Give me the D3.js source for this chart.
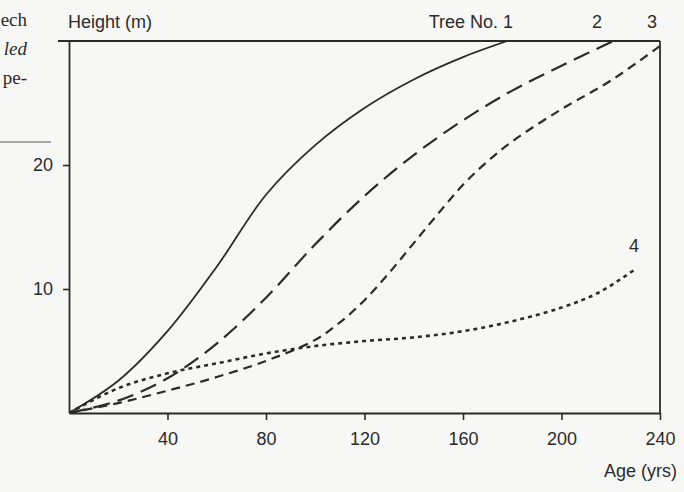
<!DOCTYPE html>
<html>
<head>
<meta charset="utf-8">
<script src="https://cdn.jsdelivr.net/npm/d3@7"></script>
<style>
body { margin: 0; background: #f7f7f6; }
svg { display: block; }
text { font-family: "Liberation Sans", Arial, sans-serif; fill: #2b2b2b; }
</style>
</head>
<body>
<svg id="chart" width="684" height="492"></svg>
<script>
// age (yrs) / height (m)
const tree1 = [[0,0],[20,2.6],[40,6.6],[60,11.8],[80,17.6],[100,21.6],[120,24.6],[140,26.9],[160,28.7],[178,30]];
const tree2 = [[0,0],[20,1.0],[40,2.8],[60,5.6],[80,9.3],[100,13.6],[120,17.5],[140,20.8],[160,23.6],[180,26.0],[200,28.0],[221,30]];
const tree3 = [[0,0],[20,0.8],[40,1.8],[60,2.9],[80,4.2],[100,5.9],[110,7.3],[120,9.1],[130,11.3],[140,13.7],[150,16.1],[160,18.4],[170,20.3],[180,21.9],[200,24.5],[220,26.8],[240,29.6]];
const tree4 = [[0,0],[20,2.0],[40,3.2],[60,4.0],[80,4.8],[100,5.4],[120,5.8],[140,6.1],[160,6.6],[180,7.4],[200,8.5],[215,9.7],[230,11.6]];
const xTicks = [40, 80, 120, 160, 200, 240];
const yTicks = [10, 20];

const series = [
  {name: "1", pts: tree1, dash: null, w: 1.8},
  {name: "2", pts: tree2, dash: "17,8", w: 2.2},
  {name: "3", pts: tree3, dash: "9,6", w: 2.2},
  {name: "4", pts: tree4, dash: "4,4", w: 2.6}
];

const svg = d3.select("#chart");
const ink = "#2b2b2b";

const x = d3.scaleLinear().domain([0, 240]).range([69, 660]);
const y = d3.scaleLinear().domain([0, 30]).range([413, 41]);

// bits of the book text beside the figure
const serif = "'Liberation Serif', 'DejaVu Serif', serif";
svg.append("text").attr("x", 27).attr("y", 26).attr("font-size", 19).attr("text-anchor", "end")
  .style("font-family", serif).text("ech");
svg.append("text").attr("x", 27).attr("y", 55).attr("font-size", 19).attr("text-anchor", "end")
  .style("font-family", serif).style("font-style", "italic").text("led");
svg.append("text").attr("x", 27).attr("y", 84).attr("font-size", 19).attr("text-anchor", "end")
  .style("font-family", serif).text("pe-");
svg.append("line").attr("x1", 0).attr("x2", 51).attr("y1", 142).attr("y2", 142)
  .attr("stroke", "#555").attr("stroke-width", 1);

// axes
const xAxis = svg.append("g").attr("transform", `translate(0,${y(0)})`)
  .call(d3.axisBottom(x).tickValues(xTicks).tickSize(7).tickPadding(12).tickSizeOuter(0));
const yAxis = svg.append("g").attr("transform", `translate(${x(0)},0)`)
  .call(d3.axisLeft(y).tickValues(yTicks).tickSize(6).tickPadding(10).tickSizeOuter(0));
[xAxis, yAxis].forEach(a => {
  a.select(".domain").attr("stroke", ink).attr("stroke-width", 1.8);
  a.selectAll(".tick line").attr("stroke", ink).attr("stroke-width", 1.6);
  a.selectAll(".tick text").attr("font-size", 18).attr("fill", ink)
    .style("font-family", "'Liberation Sans', Arial, sans-serif");
});

// frame top and right
svg.append("line").attr("x1", 58).attr("x2", x(240)).attr("y1", y(30)).attr("y2", y(30))
  .attr("stroke", ink).attr("stroke-width", 1.8);
svg.append("line").attr("x1", x(240)).attr("x2", x(240)).attr("y1", y(30)).attr("y2", y(0))
  .attr("stroke", ink).attr("stroke-width", 1.8);

svg.append("clipPath").attr("id", "plot").append("rect")
  .attr("x", x(0)).attr("y", y(30)).attr("width", x(240) - x(0)).attr("height", y(0) - y(30));

const line = d3.line().x(d => x(d[0])).y(d => y(d[1])).curve(d3.curveCatmullRom.alpha(0.5));

svg.append("g").attr("clip-path", "url(#plot)")
  .selectAll("path").data(series).join("path")
  .attr("d", d => line(d.pts))
  .attr("fill", "none")
  .attr("stroke", ink)
  .attr("stroke-width", d => d.w)
  .attr("stroke-dasharray", d => d.dash);

// labels
svg.append("text").attr("x", 68).attr("y", 28).attr("font-size", 18).text("Height (m)");
svg.append("text").attr("x", 513).attr("y", 28).attr("font-size", 18).attr("text-anchor", "end").text("Tree No. 1");
svg.append("text").attr("x", 597).attr("y", 28).attr("font-size", 18).attr("text-anchor", "middle").text("2");
svg.append("text").attr("x", 652).attr("y", 28).attr("font-size", 18).attr("text-anchor", "middle").text("3");
svg.append("text").attr("x", 634).attr("y", 252).attr("font-size", 18).attr("text-anchor", "middle").text("4");
svg.append("text").attr("x", 677).attr("y", 477).attr("font-size", 18).attr("text-anchor", "end").text("Age (yrs)");
</script>
</body>
</html>
